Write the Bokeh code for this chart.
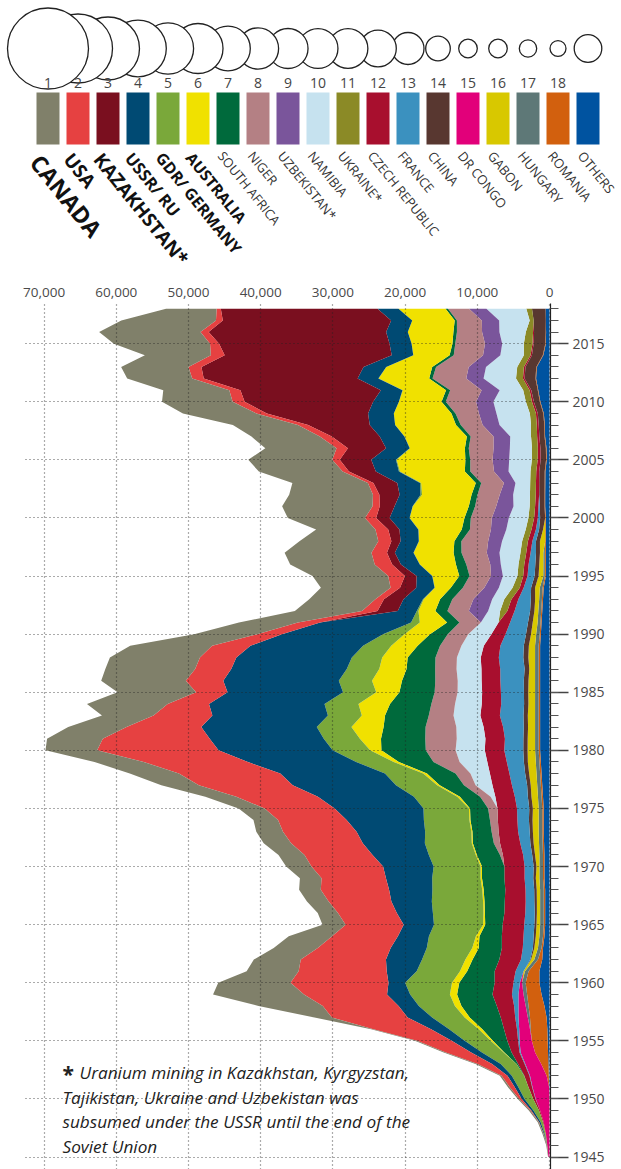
import math
from bokeh.plotting import figure
from bokeh.models import ColumnDataSource, Range1d, FixedTicker, NumeralTickFormatter
from bokeh.layouts import column
from bokeh.embed import file_html
from bokeh.resources import INLINE
from bokeh.core.properties import value

FONT = "Open Sans"
years = list(range(1945, 2019))

# ---- yearly uranium production, tonnes U (1945 .. 2018) ----
canada = [50, 100, 150, 150, 200,
          200, 250, 250, 300, 300, 300, 300, 2400, 8900, 12600,
          10000, 7200, 6500, 6100, 6000, 3200, 2800, 3000, 3000, 3000,
          3500, 3600, 3800, 3700, 3400, 3600, 4300, 5200, 6800, 6820,
          7150, 7720, 8080, 7140, 11170, 10880, 11720, 12440, 12470, 11350,
          8730, 8160, 9300, 9155, 9650, 10473, 11706, 12029, 10922, 8214,
          10683, 12520, 11604, 10457, 11597, 11628, 9862, 9476, 9000, 10173,
          9783, 9145, 8999, 9331, 9134, 13325, 14039, 13116, 7001]
usa = [0, 0, 30, 60, 140,
       350, 690, 810, 2000, 3500, 4800, 8000, 10500, 10500, 11500,
       13580, 12200, 11800, 10100, 9120, 8040, 8150, 8690, 9460, 8920,
       9920, 9420, 9920, 10190, 9500, 9700, 11300, 13000, 14040, 14420,
       16810, 14810, 10350, 8150, 5730, 4350, 5190, 5000, 5040, 5310,
       3420, 3080, 2150, 1190, 1310, 2310, 2420, 2150, 1810, 1770,
       1540, 1000, 890, 770, 880, 1040, 1580, 1654, 1430, 1453,
       1660, 1537, 1596, 1792, 1919, 1256, 1125, 940, 582]
kazakhstan = [0] * 47 + [2802, 2700, 2240, 1630, 1210, 1090, 1270, 1560,
              1870, 2050, 2800, 3300, 3719, 4357, 5279, 6637, 8521, 14020,
              17803, 19451, 21317, 22451, 23127, 23607, 24586, 23321, 21705]
ussr_ru = [0, 0, 100, 200, 300,
           400, 500, 600, 1200, 1500, 1800, 2500, 3400, 2800, 3200,
           2300, 4150, 5000, 5000, 4300, 4200, 5000, 5600, 6000, 6400,
           7000, 7800, 8600, 9500, 10700, 12300, 13300, 14300, 14500, 15000,
           15800, 15800, 16000, 16000, 16000, 16000, 16000, 16000, 16000, 15600,
           14000, 12600, 2640, 2700, 2540, 2160, 2605, 2580, 2530, 2610,
           2760, 2500, 2900, 3150, 3200, 3431, 3262, 3413, 3521, 3564,
           3562, 2993, 2872, 3135, 2990, 3055, 3004, 2917, 2904]
gdr_germany = [0, 15, 150, 320, 770,
               1200, 1400, 1700, 2200, 3000, 3600, 4100, 4500, 5000, 5500,
               6500, 6000, 6000, 6300, 6500, 6800, 7000, 7100, 6900, 6700,
               6500, 6500, 6500, 6400, 6300, 6300, 6000, 5700, 5300, 5200,
               5200, 5000, 4800, 4700, 4700, 4600, 4600, 4500, 4200, 3900,
               2972, 1207, 232, 116, 40, 35, 40, 30, 30, 30,
               28, 27, 212, 150, 150, 94, 65, 41, 0, 0,
               8, 51, 50, 27, 33, 0, 0, 0, 0]
australia = [0, 0, 0, 0, 0,
             0, 0, 0, 0, 100, 300, 500, 700, 900, 1000,
             1000, 1000, 1000, 900, 500, 300, 200, 200, 200, 200,
             200, 150, 150, 150, 150, 150, 360, 356, 516, 705,
             1561, 2922, 4453, 3211, 4366, 3206, 4154, 3781, 3530, 3658,
             3530, 3776, 2334, 2256, 2208, 3712, 4975, 5520, 4894, 5984,
             7579, 7756, 6854, 7572, 8982, 9516, 7593, 8611, 8430, 7982,
             5900, 5983, 6991, 6350, 5001, 5654, 6315, 5882, 6517]
south_africa = [0, 0, 0, 0, 0,
                0, 0, 40, 200, 1000, 2000, 3000, 4300, 4900, 4900,
                4900, 3800, 3700, 3200, 3100, 2400, 2700, 2800, 3000, 3100,
                3100, 3200, 2900, 2650, 2700, 2500, 2800, 3360, 3960, 4800,
                6146, 6131, 5816, 6060, 5732, 4880, 4612, 3963, 3850, 3100,
                2460, 1712, 1669, 1700, 1671, 1421, 1436, 1100, 965, 1134,
                878, 873, 824, 758, 755, 674, 534, 539, 655, 563,
                583, 582, 465, 531, 573, 393, 490, 308, 346]
niger = [0] * 26 + [410, 865, 970, 1100, 1306, 1460, 1609, 2060, 3620,
         4128, 4363, 4259, 3426, 3277, 3181, 3109, 2960, 2970, 2960,
         2839, 2965, 2965, 2914, 2975, 2974, 3321, 3497, 3714, 2907,
         2914, 2920, 3075, 3143, 3282, 3093, 3434, 3153, 3032, 3243,
         4198, 4351, 4667, 4518, 4057, 4116, 3479, 3449, 2911]
uzbekistan = [0] * 47 + [2680, 2600, 2015, 1644, 1459, 1764, 1926, 2130,
              2350, 2400, 1860, 1598, 2016, 2300, 2260, 2320, 2338, 2429,
              2400, 2500, 2400, 2400, 2400, 2385, 2404, 2404, 2404]
namibia = [0] * 31 + [650, 2340, 2697, 3840,
           4042, 3971, 3776, 3719, 3700, 3400, 3300, 3450, 3300, 3100,
           3211, 2450, 1660, 1679, 1895, 2016, 2447, 2905, 2780, 2690,
           2714, 2239, 2333, 2036, 3038, 3147, 3067, 2879, 4366, 4626,
           4496, 3258, 4495, 4323, 3255, 2993, 3654, 4224, 5525]
ukraine = [0] * 47 + [1000, 1000, 1000, 800, 800, 800, 800, 800,
           800, 750, 800, 800, 800, 800, 808, 846, 800, 840,
           850, 890, 960, 922, 926, 1200, 1005, 550, 790]
czech = [0, 30, 50, 100, 150,
         300, 500, 700, 900, 1100, 1500, 1800, 2000, 2400, 2700,
         2600, 2900, 3000, 2900, 3000, 3000, 2900, 2900, 2800, 2800,
         2800, 2800, 2800, 2700, 2700, 2700, 2700, 2700, 2700, 2700,
         2700, 2700, 2700, 2700, 2700, 2600, 2600, 2600, 2500, 2300,
         1950, 1600, 1000, 950, 541, 600, 598, 603, 610, 612,
         507, 456, 465, 452, 412, 408, 359, 306, 263, 258,
         254, 229, 228, 215, 193, 155, 138, 0, 0]
france = [0, 0, 0, 0, 0,
          50, 60, 80, 100, 150, 200, 300, 450, 600, 900,
          900, 1100, 1300, 1400, 1400, 1400, 1300, 1200, 1200, 1200,
          1250, 1250, 1400, 1600, 1600, 1700, 1800, 2100, 2183, 2362,
          2634, 2552, 2859, 3271, 3168, 3189, 3248, 3376, 3394, 3242,
          2841, 2480, 2149, 1730, 1028, 980, 930, 750, 508, 439,
          319, 195, 20, 0, 7, 7, 5, 4, 5, 8,
          7, 6, 3, 5, 3, 2, 0, 0, 0]
china = [0] * 15 + [0, 0, 100, 200, 300, 300, 300, 350, 350, 350,
         400, 400, 450, 450, 500, 500, 500, 500, 550, 550,
         600, 600, 600, 600, 600, 600, 650, 650, 700, 700,
         700, 650, 600, 600, 550, 550, 550, 550, 550, 550,
         700, 655, 730, 750, 750, 750, 750, 712, 769, 750,
         827, 885, 1500, 1500, 1500, 1616, 1616, 1692, 1885]
dr_congo = [150, 300, 500, 800, 1300,
            1900, 2300, 2300, 2200, 2000, 1700, 1500, 1300, 1000, 700,
            300] + [0] * 58
gabon = [0] * 16 + [200, 450, 500, 500, 500, 450, 450, 470, 500,
         400, 600, 750, 800, 850, 800, 900, 900, 1022, 1100,
         1033, 1022, 970, 1006, 918, 940, 910, 800, 930, 860,
         709, 680, 540, 556, 650, 652, 568, 470, 725, 294] + [0] * 19
hungary = [0] * 11 + [100, 300, 400, 500] + [500] * 30 + \
          [500, 400, 400, 380, 400, 210, 200, 200, 0, 0] + [0] * 19
romania = [0, 0, 0, 0, 0,
           0, 0, 300, 1000, 1800, 2200, 2300, 2300, 2200, 2000,
           1900, 1500, 600, 200, 200, 200, 200, 200, 200, 200] + [200] * 20 + \
          [150, 150, 150, 150, 150, 150, 150, 150, 100, 100,
           100, 90, 90, 90, 90, 90, 90, 77, 77, 75,
           77, 77, 90, 77, 77, 77, 50, 0, 0]
others = [0, 0, 0, 0, 0,
          0, 50, 100, 150, 200, 250, 300, 400, 700, 1100,
          1400, 1400, 1000, 900, 700, 600, 600, 600, 600, 700,
          700, 700, 750, 800, 800, 800, 900, 1000, 1100, 1200,
          1300, 1300, 1300, 1300, 1300, 1300, 1300, 1300, 1300, 1300,
          1200, 1100, 1000, 900, 800, 500, 500, 500, 500, 500,
          500, 600, 600, 585, 575, 385, 412, 614, 646, 789,
          1263, 1556, 1857, 1754, 854, 508, 474, 506, 539]

# ---- ranking: names, colours, cumulative production (t U) ----
names = ["CANADA", "USA", "KAZAKHSTAN*", "USSR/ RU", "GDR/ GERMANY", "AUSTRALIA",
         "SOUTH AFRICA", "NIGER", "UZBEKISTAN*", "NAMIBIA", "UKRAINE*",
         "CZECH REPUBLIC", "FRANCE", "CHINA", "DR CONGO", "GABON", "HUNGARY",
         "ROMANIA", "OTHERS"]
series = [canada, usa, kazakhstan, ussr_ru, gdr_germany, australia, south_africa,
          niger, uzbekistan, namibia, ukraine, czech, france, china, dr_congo,
          gabon, hungary, romania, others]
colors = ["#80806a", "#e64141", "#7a0f1f", "#004a73", "#7aa83a", "#f0e100",
          "#006a3c", "#b48084", "#7a559b", "#c6e2ef", "#8b8a26", "#a80f2e",
          "#3b91bf", "#583730", "#e2007a", "#d8c800", "#5e7877", "#d2600e",
          "#0053a0"]
cumulative = [540000, 392000, 326600, 263700, 215700, 205800, 163700, 139700,
              132000, 131000, 130000, 110200, 84300, 49800, 28500, 28400,
              24900, 21000, 62700]

for s in series:
    assert len(s) == len(years), len(s)

# ---------------- main chart ----------------
def px2val(px):
    return (549.0 - px) / 72.2 * 10000.0

def py2yr(py):
    return 2018.0 - (py - 308.3) / 11.62

HDR_H = 278
keys = ["s%d" % i for i in range(len(series))]
data = {"year": years}
for k, s in zip(keys, series):
    data[k] = s
src = ColumnDataSource(data)

main = figure(width=621, height=1169 - HDR_H, output_backend="svg", toolbar_location=None,
              x_range=Range1d(px2val(25), px2val(550)),
              y_range=Range1d(py2yr(1169), py2yr(303)),
              x_axis_location="above", y_axis_location="right",
              min_border_left=25, min_border_right=71, min_border_top=303 - HDR_H,
              min_border_bottom=0)
main.outline_line_color = None
main.frame_align = False

stack_keys = keys[::-1]
stack_cols = colors[::-1]
main.harea_stack(stackers=stack_keys, y="year", color=stack_cols, source=src)

xt = [0, 10000, 20000, 30000, 40000, 50000, 60000, 70000]
yt = list(range(1945, 2016, 5))
main.xaxis.ticker = FixedTicker(ticks=xt)
main.xaxis.formatter = NumeralTickFormatter(format="0,0")
main.xaxis.axis_line_color = None
main.xaxis.major_tick_line_color = None
main.xaxis.minor_tick_line_color = None
main.xaxis.major_label_standoff = 1
main.xaxis.major_label_text_font = FONT
main.xaxis.major_label_text_font_size = "13.5px"
main.xaxis.major_label_text_color = "#4a4a4a"

main.yaxis.ticker = FixedTicker(ticks=yt, minor_ticks=years)
main.yaxis.axis_line_color = "#222222"
main.yaxis.axis_line_width = 1.2
main.yaxis.major_tick_out = 18
main.yaxis.major_tick_in = 0
main.yaxis.minor_tick_out = 8
main.yaxis.minor_tick_in = 0
main.yaxis.major_tick_line_color = "#444444"
main.yaxis.minor_tick_line_color = "#555555"
main.yaxis.major_tick_line_width = 1.3
main.yaxis.major_label_standoff = 4
main.yaxis.major_label_text_font = FONT
main.yaxis.major_label_text_font_size = "14px"
main.yaxis.major_label_text_color = "#4a4a4a"

main.xgrid.ticker = FixedTicker(ticks=xt)
main.ygrid.ticker = FixedTicker(ticks=yt)
for g in (main.xgrid, main.ygrid):
    g.grid_line_color = "#222222"
    g.grid_line_dash = "1 3"
    g.grid_line_width = 1.2
    g.grid_line_alpha = 0.75
    g.level = "overlay"

note_lines = ["Uranium mining in Kazakhstan, Kyrgyzstan,",
              "Tajikistan, Ukraine and Uzbekistan was",
              "subsumed under the USSR until the end of the",
              "Soviet Union"]
note_x = [px2val(79), px2val(62), px2val(62), px2val(62)]
note_y = [py2yr(1072), py2yr(1096.5), py2yr(1121), py2yr(1145.5)]
main.text(x=note_x, y=note_y, text=note_lines, text_font=value(FONT),
          text_font_style="italic", text_font_size="17.2px", text_color="#222222",
          text_baseline="middle", text_align="left")
main.text(x=[px2val(62)], y=[py2yr(1073)], text=["*"], text_font=value(FONT),
          text_font_style="bold", text_font_size="21px", text_color="#222222",
          text_baseline="middle", text_align="left")

# ---------------- header (ranking) ----------------
n = len(names)
idx = list(range(n))
hdr = figure(width=621, height=HDR_H, output_backend="svg", toolbar_location=None,
             x_range=Range1d((0 - 47.5) / 30.0, (621 - 47.5) / 30.0),
             y_range=Range1d(HDR_H, 0), min_border=0)
hdr.axis.visible = False
hdr.grid.visible = False
hdr.outline_line_color = None
hdr.frame_align = False

diam = [2 * 40.5 * math.sqrt(c / cumulative[0]) for c in cumulative]
hdr.scatter(x=idx[::-1], y=[48] * n, size=diam[::-1], marker="circle",
            fill_color="white", line_color="#222222", line_width=1.3)
hdr.text(x=idx[:18], y=[82.5] * 18, text=[str(i + 1) for i in range(18)],
         text_font=value(FONT), text_font_size="14px", text_color="#444444",
         text_align="center", text_baseline="middle")
hdr.rect(x=idx, y=[118] * n, width=0.7667, height=52, fill_color=colors,
         line_color=None)

bold_sizes = ["23px", "19px", "19px", "16.5px", "16px", "15.5px"]
hdr.text(x=idx[:6], y=[147] * 6, text=names[:6], angle=-0.89,
         text_font=value(FONT), text_font_style="bold", text_font_size=bold_sizes,
         text_color="#111111", text_align="left", text_baseline="top")
hdr.text(x=idx[6:], y=[147] * (n - 6), text=names[6:], angle=-0.89,
         text_font=value(FONT), text_font_size="13px",
         text_color="#333333", text_align="left", text_baseline="top")

layout = column(hdr, main, spacing=0)
open("out.html", "w").write(file_html(layout, INLINE))
